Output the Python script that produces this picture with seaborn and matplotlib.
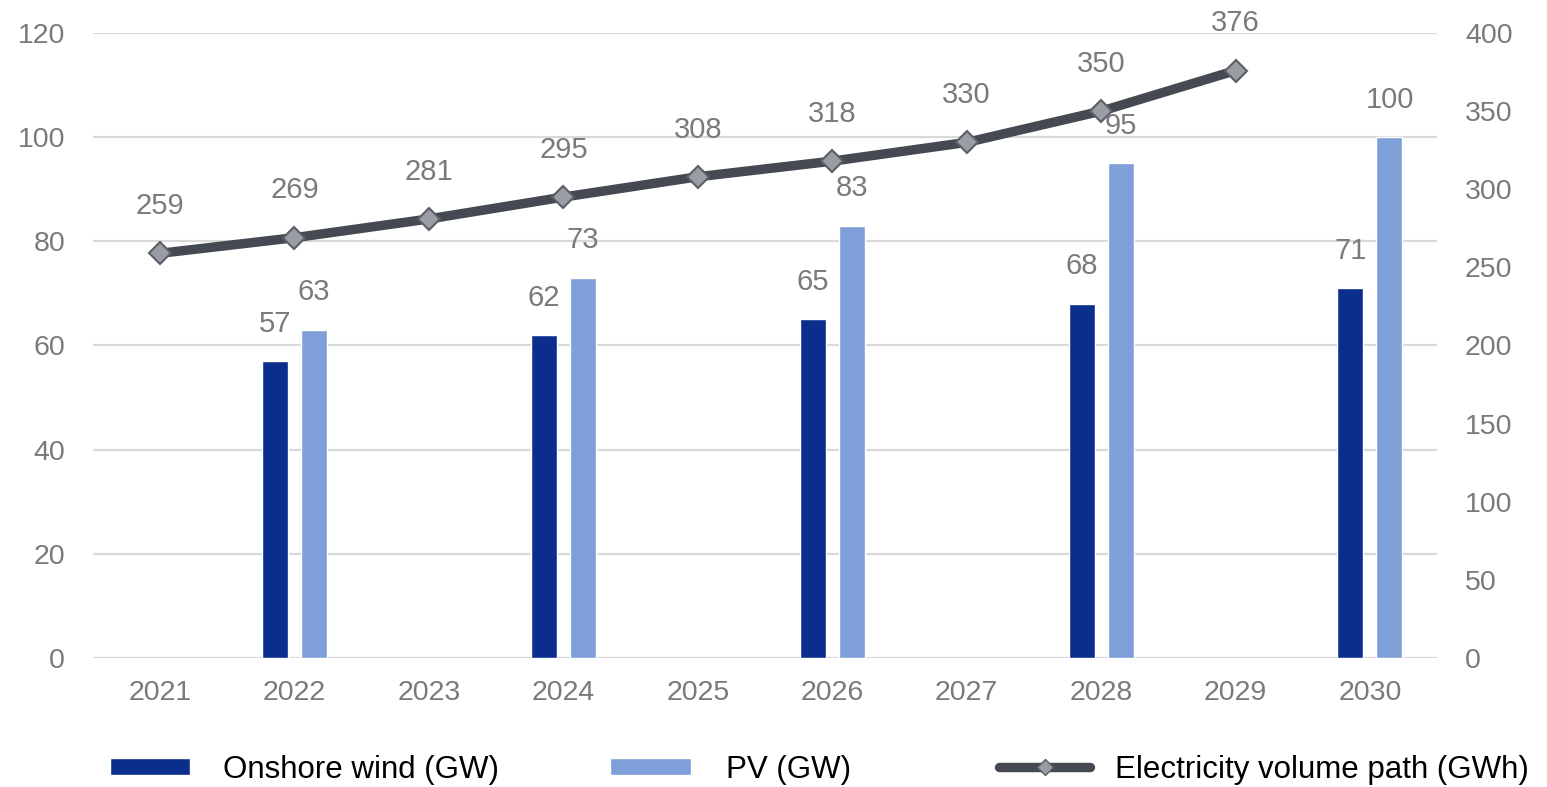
import numpy as np
import pandas as pd
import matplotlib
matplotlib.use("Agg")
import matplotlib.pyplot as plt
from matplotlib.lines import Line2D
from matplotlib.patches import Patch
import seaborn as sns

# ---- data -------------------------------------------------------------
years = ["2021", "2022", "2023", "2024", "2025",
         "2026", "2027", "2028", "2029", "2030"]
onshore_wind = [np.nan, 57, np.nan, 62, np.nan, 65, np.nan, 68, np.nan, 71]
pv = [np.nan, 63, np.nan, 73, np.nan, 83, np.nan, 95, np.nan, 100]
electricity = [259, 269, 281, 295, 308, 318, 330, 350, 376, np.nan]

wind_label = "Onshore wind (GW)"
pv_label = "PV (GW)"
line_label = "Electricity volume path (GWh)"

left_ticks = list(range(0, 121, 20))
right_ticks = list(range(0, 401, 50))

# ---- styling ----------------------------------------------------------
WIND_C = "#0b2e8c"
PV_C = "#7f9fd8"
LINE_C = "#454952"
MARK_FACE = "#9a9da3"
MARK_EDGE = "#5a5e66"
TEXT_GRAY = "#7a7a7a"
GRID_C = "#d9d9d9"

sns.set_style("white")
plt.rcParams["font.family"] = ["Liberation Sans", "DejaVu Sans"]

bars = pd.DataFrame({
    "year": years * 2,
    "series": [wind_label] * len(years) + [pv_label] * len(years),
    "value": onshore_wind + pv,
}).dropna()

fig = plt.figure(figsize=(15.47, 7.87), dpi=100)
ax = fig.add_axes([0.060, 0.164, 0.869, 0.794])

sns.barplot(data=bars, x="year", y="value", hue="series", order=years,
            hue_order=[wind_label, pv_label], palette=[WIND_C, PV_C],
            width=0.58, gap=0.335, saturation=1, errorbar=None,
            legend=False, ax=ax)

ax.set_xlim(-0.5, len(years) - 0.5)
ax.set_ylim(0, 120)
ax.set_yticks(left_ticks)
ax.grid(axis="y", color=GRID_C, linewidth=1.6)
ax.grid(axis="x", visible=False)
ax.set_axisbelow(True)
ax.set_xlabel("")
ax.set_ylabel("")
ax.tick_params(axis="y", length=0, labelsize=20.5, colors=TEXT_GRAY, pad=20)
ax.tick_params(axis="x", length=0, labelsize=20.5, colors=TEXT_GRAY, pad=16)
for s in ax.spines.values():
    s.set_visible(False)

# ---- electricity line on the secondary axis ----------------------------
ax2 = ax.twinx()
sns.pointplot(x=years, y=electricity, order=years, ax=ax2,
              color=LINE_C, markers="D", linestyles="-", errorbar=None,
              linewidth=6.8, markersize=11, markerfacecolor=MARK_FACE,
              markeredgecolor=MARK_EDGE, markeredgewidth=1.5)
ax2.set_xlim(-0.5, len(years) - 0.5)
ax2.set_ylim(0, 400)
ax2.set_yticks(right_ticks)
ax2.grid(False)
ax2.set_xlabel("")
ax2.set_ylabel("")
ax2.tick_params(axis="y", length=0, labelsize=20.5, colors=TEXT_GRAY, pad=20)
for s in ax2.spines.values():
    s.set_visible(False)

for i, v in enumerate(electricity):
    if np.isnan(v):
        continue
    ax2.annotate(f"{v:.0f}", xy=(i, v), xytext=(0, 34),
                 textcoords="offset points", ha="center", va="center",
                 fontsize=21, color=TEXT_GRAY)

# bar value labels (drawn on the top axes so they sit above the line)
for container in ax.containers:
    for rect, val in zip(container, container.datavalues):
        if np.isnan(val):
            continue
        xc = rect.get_x() + rect.get_width() / 2
        ax2.annotate(f"{val:.0f}", xy=(xc, rect.get_height()),
                     xycoords=ax.transData, xytext=(0, 27),
                     textcoords="offset points", ha="center", va="center",
                     fontsize=21, color=TEXT_GRAY)

# ---- legend ------------------------------------------------------------
leg_y = 0.022
common = dict(loc="center left", frameon=False, borderpad=0,
              borderaxespad=0, fontsize=22.5, labelcolor="black")
fig.legend(handles=[Patch(facecolor=WIND_C)], labels=[wind_label],
           bbox_to_anchor=(0.0711, leg_y), handlelength=2.56,
           handleheight=0.42, handletextpad=1.06, **common)
fig.legend(handles=[Patch(facecolor=PV_C)], labels=[pv_label],
           bbox_to_anchor=(0.394, leg_y), handlelength=2.62,
           handleheight=0.42, handletextpad=1.12, **common)
fig.legend(handles=[Line2D([], [], color=LINE_C, lw=6.8, marker="D",
                           markersize=8, markerfacecolor=MARK_FACE,
                           markeredgecolor=MARK_EDGE)],
           labels=[line_label], bbox_to_anchor=(0.646, leg_y),
           handlelength=2.9, handletextpad=0.8, numpoints=1, **common)

fig.savefig("out.png", dpi=100)
